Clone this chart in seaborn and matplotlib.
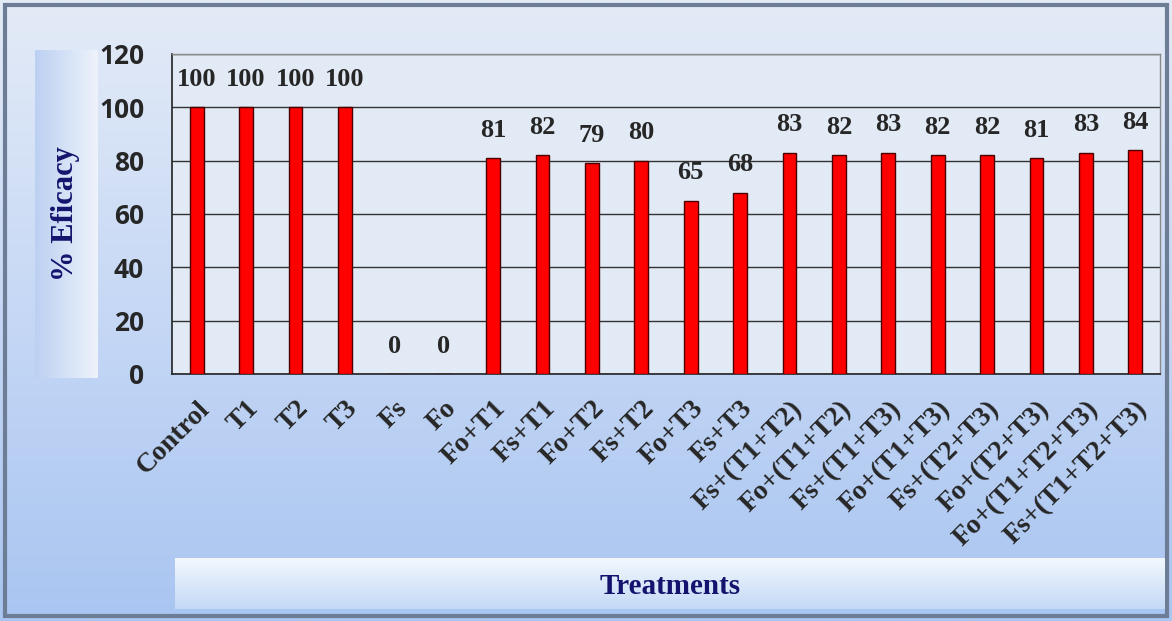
import matplotlib
matplotlib.use('Agg')
import matplotlib.pyplot as plt
import numpy as np
import seaborn as sns
from matplotlib.colors import LinearSegmentedColormap
from matplotlib.patches import Rectangle

# data
treatments = ['Control', 'T1', 'T2', 'T3', 'Fs', 'Fo', 'Fo+T1', 'Fs+T1', 'Fo+T2', 'Fs+T2',
              'Fo+T3', 'Fs+T3', 'Fs+(T1+T2)', 'Fo+(T1+T2)', 'Fs+(T1+T3)', 'Fo+(T1+T3)',
              'Fs+(T2+T3)', 'Fo+(T2+T3)', 'Fo+(T1+T2+T3)', 'Fs+(T1+T2+T3)']
efficacy = [100, 100, 100, 100, 0, 0, 81, 82, 79, 80, 65, 68, 83, 82, 83, 82, 82, 81, 83, 84]
y_ticks = [0, 20, 40, 60, 80, 100, 120]

sns.set_style('white')
serif = ['Liberation Serif', 'DejaVu Serif']
navy = '#14146e'

fig = plt.figure(figsize=(11.72, 6.21), dpi=100)

# background gradient of the whole picture
bg = fig.add_axes([0, 0, 1, 1], zorder=-10)
grad = np.linspace(0, 1, 256).reshape(-1, 1)
bg_cmap = LinearSegmentedColormap.from_list('bg', ['#e4ebf7', '#c6d8f5', '#a9c5f1'])
bg.imshow(grad, aspect='auto', cmap=bg_cmap, extent=[0, 1, 0, 1], origin='upper')
bg.set_xlim(0, 1)
bg.set_ylim(0, 1)
bg.axis('off')
bg.add_patch(Rectangle((0.004, 0.008), 0.992, 0.984, fill=False, edgecolor='#6d7d95', linewidth=3))

# box behind y label
yl = fig.add_axes([35 / 1172, 1 - 378 / 621, 62 / 1172, 328 / 621], zorder=-5)
yl.imshow(np.linspace(0, 1, 256).reshape(1, -1), aspect='auto',
          cmap=LinearSegmentedColormap.from_list('yl', ['#bcd0f2', '#eef3fb']))
yl.axis('off')
yl.text(0.5, 0.5, '% Eficacy', transform=yl.transAxes, rotation=90, ha='center', va='center',
        family=serif, fontweight='bold', fontsize=22, color=navy)

# box behind x label
xl = fig.add_axes([175 / 1172, 1 - 609 / 621, 990 / 1172, 51 / 621], zorder=-5)
xl.imshow(grad, aspect='auto', cmap=LinearSegmentedColormap.from_list('xl', ['#f2f8fd', '#c4d9f6']))
xl.axis('off')
xl.text(0.5, 0.45, 'Treatments', transform=xl.transAxes, ha='center', va='center',
        family=serif, fontweight='bold', fontsize=21, color=navy)

# main chart
ax = fig.add_axes([172 / 1172, 1 - 374 / 621, 988 / 1172, 320 / 621])
ax.set_facecolor('#e2eaf5')
sns.barplot(x=treatments, y=efficacy, color='#ff0000', saturation=1, width=0.28,
            edgecolor='#4a0000', linewidth=1, ax=ax, zorder=3)

for i, v in enumerate(efficacy):
    ax.annotate(f'{v}', (i, v), xytext=(0, 20), textcoords='offset points',
                ha='center', va='center', family=serif, fontweight='bold', fontsize=19)

ax.set_ylim(0, 120)
ax.set_xlim(-0.5, len(treatments) - 0.5)
ax.set_yticks(y_ticks)
ax.yaxis.grid(True, color='#333333', linewidth=1)
ax.set_axisbelow(True)
ax.tick_params(axis='y', direction='out', length=10, width=1, color='#222222', pad=10,
               labelsize=19)
for lab in ax.get_yticklabels():
    lab.set_family(['Open Sans', 'DejaVu Sans'])
    lab.set_fontweight('bold')

ax.set_xticks(range(len(treatments)))
ax.set_xticks(np.arange(-0.5, len(treatments), 1), minor=True)
ax.tick_params(axis='x', which='major', length=0, pad=16)
ax.tick_params(axis='x', which='minor', direction='out', length=7, width=1, color='#222222')
ax.set_xticklabels(treatments, rotation=45, ha='right', rotation_mode='anchor',
                   family=serif, fontweight='bold', fontsize=20)
ax.set_xlabel('')
ax.set_ylabel('')

for side in ['left', 'bottom']:
    ax.spines[side].set_color('#222222')
    ax.spines[side].set_linewidth(1.2)
for side in ['top', 'right']:
    ax.spines[side].set_color('#8a8a8a')
    ax.spines[side].set_linewidth(1)

fig.savefig('out.png', dpi=100)
